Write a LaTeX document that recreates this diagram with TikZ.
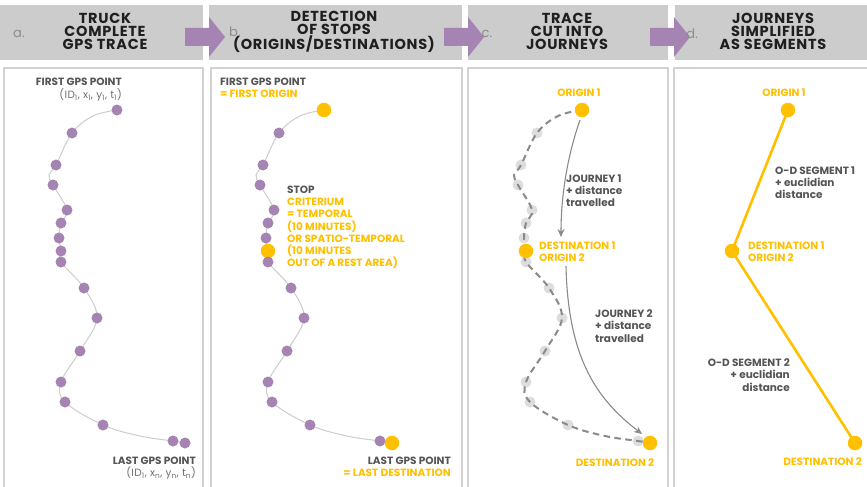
\documentclass[tikz,border=0pt]{standalone}
\usepackage{fontspec}
\setmainfont{Poppins}
\usetikzlibrary{arrows.meta}

\definecolor{hdrgray}{HTML}{CCCCCC}
\definecolor{boxline}{HTML}{D2D2D2}
\definecolor{gpspurple}{HTML}{A584B4}
\definecolor{gold}{HTML}{FFC000}
\definecolor{txtdark}{HTML}{555555}
\definecolor{txtlight}{HTML}{707070}
\definecolor{dashgray}{HTML}{8A8A8A}
\definecolor{dotgray}{HTML}{DDDDDD}
\definecolor{tracegray}{HTML}{CDCDCD}

\begin{document}
\begin{tikzpicture}[x=1pt, y=-1pt,
    header box/.style={fill=hdrgray, draw=none},
    panel box/.style={draw=boxline, line width=1.5pt, fill=white},
    header node/.style={font=\bfseries\fontsize{14.5}{13}\selectfont\addfontfeatures{LetterSpace=5}, text=black!88, align=center, inner sep=0pt},
    step label/.style={font=\fontsize{13}{13}\selectfont, text=black!45, inner sep=0pt},
    label node/.style={font=\bfseries\fontsize{10.5}{12.2}\selectfont, text=txtdark, inner sep=0pt},
    id node/.style={font=\fontsize{10.5}{12.2}\selectfont\addfontfeatures{LetterSpace=4}, text=txtlight, inner sep=0pt},
    gold node/.style={label node, text=gold},
    gps dot/.style={circle, fill=gpspurple, minimum size=11pt, inner sep=0pt},
    stop dot/.style={circle, fill=gold, minimum size=14.5pt, inner sep=0pt},
    ghost dot/.style={circle, fill=dotgray, minimum size=11pt, inner sep=0pt},
    trace line/.style={draw=tracegray, line width=1pt},
    dash line/.style={draw=dashgray, line width=2pt, dash pattern=on 6.5pt off 4.5pt},
    journey arrow/.style={draw=dashgray, line width=1.1pt, -{Stealth[length=8pt, width=7pt]}},
    od line/.style={draw=gold, line width=2.6pt}
]

%================CONFIGURATION================
% trace of panel a, other panels are shifted copies
\def\gpscurve{plot[smooth, tension=0.6] coordinates {(117,110) (93,116) (72,133) (56,165) (49,175) (53,185) (67,210) (61,223) (59,238) (61,251) (61,262) (84,288) (97,318) (80,351) (61,382) (65,402) (103,425) (140,436) (173,441) (185,443)}}
\def\gpspoints{117/110, 72/133, 56/165, 53/185, 67/210, 61/223, 59/238, 61/251, 61/262, 84/288, 97/318, 80/351, 61/382, 65/402, 103/425, 173/441, 185/443}
%=============================================

\clip (0,0) rectangle (867,487);
\fill[white] (0,0) rectangle (867,487);

% --- headers and panels ---
\fill[header box] (0,5) rectangle (203,60);
\fill[header box] (209,5) rectangle (462,60);
\fill[header box] (468,5) rectangle (668,60);
\fill[header box] (675,5) rectangle (870,60);

\draw[panel box] (4,68) rectangle (203,495);
\draw[panel box] (211,68) rectangle (462,495);
\draw[panel box] (468,68) rectangle (668,495);
\draw[panel box] (674,68) rectangle (875,495);

% step arrows
\foreach \xa in {209,468,674} {
    \fill[gpspurple] (\xa-24,28) -- (\xa,28) -- (\xa,17) -- (\xa+16,37)
        -- (\xa,57) -- (\xa,46) -- (\xa-24,46) -- cycle;
}

\node[header node] (hd-a) at (105,31.5) {TRUCK\\COMPLETE\\GPS TRACE};
\node[header node] (hd-b) at (334,31.5) {DETECTION\\OF STOPS\\(ORIGINS/DESTINATIONS)};
\node[header node] (hd-c) at (567,31.5) {TRACE\\CUT INTO\\JOURNEYS};
\node[header node] (hd-d) at (773,31.5) {JOURNEYS\\SIMPLIFIED\\AS SEGMENTS};

\node[step label] (st-a) at (19,34) {a.};
\node[step label] (st-b) at (235,32) {b.};
\node[step label] (st-c) at (487,34) {c.};
\node[step label] (st-d) at (692,34) {d.};

% --- panel a: complete trace ---
\draw[trace line] \gpscurve;
\foreach \px/\py [count=\k] in \gpspoints {
    \node[gps dot] (a\k) at (\px,\py) {};
}
\node[label node, anchor=east] (a-first) at (122,82) {FIRST GPS POINT};
\node[id node, anchor=east] (a-first-id) at (122,95) {(ID\textsubscript{1}, x\textsubscript{1}, y\textsubscript{1}, t\textsubscript{1})};
\node[label node, anchor=east] (a-last) at (196,461) {LAST GPS POINT};
\node[id node, anchor=east] (a-last-id) at (196,473) {(ID\textsubscript{1}, x\textsubscript{n}, y\textsubscript{n}, t\textsubscript{n})};

% --- panel b: stops ---
\begin{scope}[xshift=207pt]
    \draw[trace line] \gpscurve;
    \foreach \px/\py [count=\k] in \gpspoints {
        \ifnum\k=1 \node[stop dot] (b\k) at (\px,\py) {};
        \else\ifnum\k=8 \node[stop dot] (b\k) at (\px,\py) {};
        \else\ifnum\k=17 \node[stop dot] (b\k) at (\px,\py) {};
        \else \node[gps dot] (b\k) at (\px,\py) {};
        \fi\fi\fi
    }
\end{scope}
\node[label node, anchor=west, align=left] (b-first) at (220,88) {FIRST GPS POINT\\\color{gold}= FIRST ORIGIN};
\node[label node, anchor=west, align=left] (b-stop) at (287,227.5) {STOP\\\color{gold}CRITERIUM\\\color{gold}= TEMPORAL\\\color{gold}(10 MINUTES)\\\color{gold}OR SPATIO-TEMPORAL\\\color{gold}(10 MINUTES\\\color{gold}OUT OF A REST AREA)};
\node[label node, anchor=east, align=right] (b-last) at (451,467) {LAST GPS POINT\\\color{gold}= LAST DESTINATION};

% --- panel c: journeys ---
\begin{scope}[xshift=465pt]
    \foreach \px/\py [count=\k] in \gpspoints {
        \node[ghost dot] (c\k) at (\px,\py) {};
    }
    \draw[dash line] \gpscurve;
    \node[stop dot] (c-o1) at (117,110) {};
    \node[stop dot] (c-d1) at (61,251) {};
    \node[stop dot] (c-d2) at (185,443) {};
\end{scope}
\coordinate (j1-from) at (580,120);
\coordinate (j1-to) at (561,237);
\coordinate (j2-from) at (566,266);
\coordinate (j2-to) at (642,434);
\draw[journey arrow] (j1-from) .. controls (566,160) and (561,200) .. (j1-to);
\draw[journey arrow] (j2-from) .. controls (568,360) and (598,400) .. (j2-to);

\node[gold node] (c-o1-lbl) at (579,93) {ORIGIN 1};
\node[gold node, anchor=west, align=left] (c-d1-lbl) at (539,252) {DESTINATION 1\\ORIGIN 2};
\node[gold node] (c-d2-lbl) at (615,463) {DESTINATION 2};
\node[label node, anchor=west, align=left] (c-j1) at (566,191) {JOURNEY 1\\+ distance\\travelled};
\node[label node, anchor=west, align=left] (c-j2) at (595,326) {JOURNEY 2\\+ distance\\travelled};

% --- panel d: segments ---
\coordinate (d-o1) at (788,110);
\coordinate (d-d1) at (732,251);
\coordinate (d-d2) at (855,443);
\draw[od line] (d-o1) -- (d-d1) -- (d-d2);
\node[stop dot] (d-o1-dot) at (d-o1) {};
\node[stop dot] (d-d1-dot) at (d-d1) {};
\node[stop dot] (d-d2-dot) at (d-d2) {};

\node[gold node] (d-o1-lbl) at (784,93) {ORIGIN 1};
\node[gold node, anchor=west, align=left] (d-d1-lbl) at (748,252) {DESTINATION 1\\ORIGIN 2};
\node[gold node, anchor=east] (d-d2-lbl) at (862,462) {DESTINATION 2};
\node[label node, anchor=west, align=left] (d-s1) at (775,183) {O-D SEGMENT 1\\+ euclidian\\distance};
\node[label node, anchor=east, align=right] (d-s2) at (790,375) {O-D SEGMENT 2\\+ euclidian\\distance};

\end{tikzpicture}
\end{document}
